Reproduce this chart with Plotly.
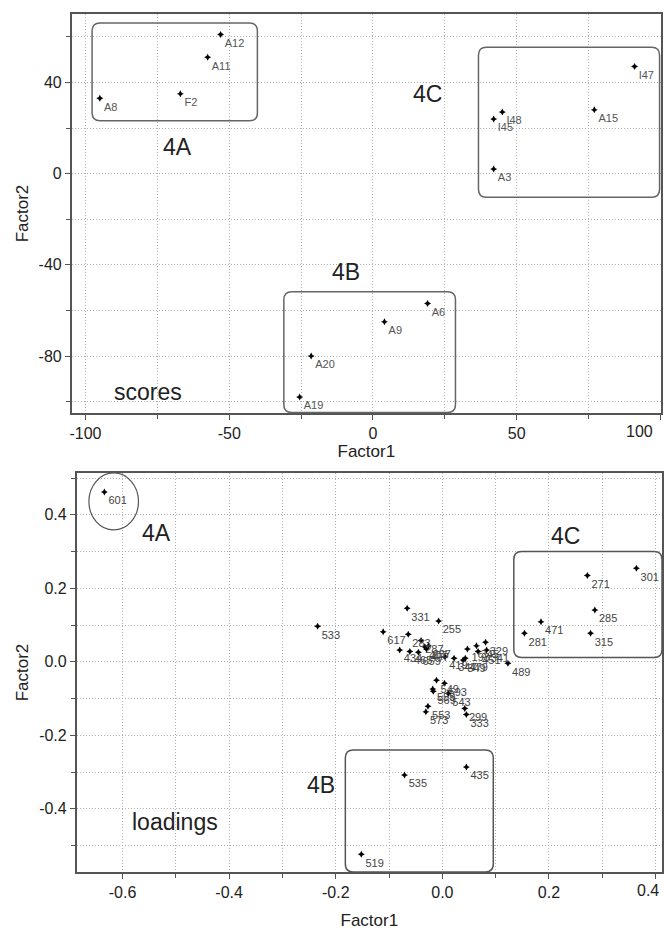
import plotly.graph_objects as go

# ---------------- data: scores ----------------
score_labels = ["A12", "A11", "F2", "A8", "I47", "A15", "I48", "I45", "A3", "A6", "A9", "A20", "A19"]
score_f1 = [-53, -57.5, -67, -95, 91, 77, 45, 42, 42, 19, 4, -21.5, -25.5]
score_f2 = [61, 51, 35, 33, 47, 28, 27, 24, 2, -57, -65, -80, -98]

score_groups = ["4A", "4C", "4B"]
score_box_x0 = [-97.7, 36.7, -31.0]
score_box_x1 = [-40.2, 99.7, 28.7]
score_box_y0 = [23.2, -10.4, -104.8]
score_box_y1 = [66.0, 55.4, -51.8]
score_group_lx = [-68, 19, -9.5]
score_group_ly = [11.5, 35, -43.3]

score_xticks = [-100, -50, 0, 50, 100]
score_xticktext = ["-100", "-50", "0", "50", "100"]
score_yticks = [-80, -40, 0, 40]
score_yticktext = ["-80", "-40", "0", "40"]

# ---------------- data: loadings ----------------
load_labels = ["601", "533", "617", "331", "255", "283", "287", "434", "465", "659", "407", "497", "237",
               "419", "347", "349", "479", "193", "345", "451", "329", "341", "489",
               "549", "593", "543", "559", "569", "553", "573", "299", "333",
               "301", "271", "285", "471", "281", "315",
               "435", "535", "519"]
load_f1 = [-0.634, -0.234, -0.111, -0.066, -0.007, -0.064, -0.040, -0.080, -0.061, -0.045, -0.033, -0.030, -0.026,
           0.005, 0.022, 0.039, 0.043, 0.047, 0.064, 0.067, 0.081, 0.083, 0.123,
           -0.011, 0.004, 0.011, -0.018, -0.017, -0.027, -0.031, 0.042, 0.045,
           0.364, 0.272, 0.286, 0.185, 0.154, 0.278,
           0.045, -0.071, -0.152]
load_f2 = [0.462, 0.097, 0.082, 0.146, 0.111, 0.075, 0.058, 0.032, 0.028, 0.026, 0.041, 0.035, 0.044,
           0.014, 0.010, 0.005, 0.010, 0.035, 0.044, 0.028, 0.053, 0.032, -0.004,
           -0.050, -0.058, -0.086, -0.074, -0.080, -0.121, -0.136, -0.127, -0.143,
           0.255, 0.235, 0.141, 0.109, 0.078, 0.078,
           -0.286, -0.308, -0.524]

load_circle = [-0.663, -0.570, 0.359, 0.514]   # group 4A ellipse (x0, x1, y0, y1)
load_groups = ["4C", "4B"]
load_box_x0 = [0.134, -0.182]
load_box_x1 = [0.412, 0.0955]
load_box_y0 = [0.012, -0.572]
load_box_y1 = [0.300, -0.240]
load_group_names = ["4A", "4C", "4B"]
load_group_lx = [-0.537, 0.231, -0.227]
load_group_ly = [0.350, 0.343, -0.336]

load_xticks = [-0.6, -0.4, -0.2, 0.0, 0.2, 0.4]
load_xticktext = ["-0.6", "-0.4", "-0.2", "0.0", "0.2", "0.4"]
load_yticks = [-0.4, -0.2, 0.0, 0.2, 0.4]
load_yticktext = ["-0.4", "-0.2", "0.0", "0.2", "0.4"]

# ---------------- axes ----------------
top_xrange = [-104.8, 100.2]
top_yrange = [-105, 70]
bot_xrange = [-0.686, 0.412]
bot_yrange = [-0.572, 0.514]

W, H = 664, 930
top_dom_x = [70 / W, 662 / W]
top_dom_y = [(H - 413) / H, (H - 14) / H]
bot_dom_x = [75 / W, 663 / W]
bot_dom_y = [(H - 872) / H, (H - 473) / H]

FONT = "Liberation Sans, Arial, sans-serif"
GRID = "#b0b0b0"
LINE = "#555555"
DOTS = "1px,2px"
TICKFONT = dict(size=16, color="#222222", family=FONT)

fig = go.Figure()

fig.add_trace(go.Scatter(
    x=score_f1, y=score_f2, text=score_labels, mode="markers+text",
    textposition="bottom right", textfont=dict(size=11, color="#555555", family=FONT),
    marker=dict(symbol="star-diamond", size=5, color="black"),
    xaxis="x", yaxis="y", showlegend=False, cliponaxis=False, hoverinfo="skip"))

fig.add_trace(go.Scatter(
    x=load_f1, y=load_f2, text=load_labels, mode="markers+text",
    textposition="bottom right", textfont=dict(size=11, color="#444444", family=FONT),
    marker=dict(symbol="star-diamond", size=5, color="black"),
    xaxis="x2", yaxis="y2", showlegend=False, cliponaxis=False, hoverinfo="skip"))


def rounded_path(x0, x1, y0, y1, rx, ry):
    return (f"M {x0+rx},{y0} L {x1-rx},{y0} Q {x1},{y0} {x1},{y0+ry} "
            f"L {x1},{y1-ry} Q {x1},{y1} {x1-rx},{y1} "
            f"L {x0+rx},{y1} Q {x0},{y1} {x0},{y1-ry} "
            f"L {x0},{y0+ry} Q {x0},{y0} {x0+rx},{y0} Z")


def px_to_data(rng, dom, total, px):
    return px * (rng[1] - rng[0]) / ((dom[1] - dom[0]) * total)


shapes = []
R = 8
rx_t = px_to_data(top_xrange, top_dom_x, W, R)
ry_t = px_to_data(top_yrange, top_dom_y, H, R)
for i in range(len(score_groups)):
    shapes.append(dict(type="path", xref="x", yref="y",
                       path=rounded_path(score_box_x0[i], score_box_x1[i], score_box_y0[i], score_box_y1[i], rx_t, ry_t),
                       line=dict(color="#666666", width=1.5)))
rx_b = px_to_data(bot_xrange, bot_dom_x, W, R)
ry_b = px_to_data(bot_yrange, bot_dom_y, H, R)
for i in range(len(load_groups)):
    shapes.append(dict(type="path", xref="x2", yref="y2",
                       path=rounded_path(load_box_x0[i], load_box_x1[i], load_box_y0[i], load_box_y1[i], rx_b, ry_b),
                       line=dict(color="#555555", width=1.5)))
shapes.append(dict(type="circle", xref="x2", yref="y2",
                   x0=load_circle[0], x1=load_circle[1], y0=load_circle[2], y1=load_circle[3],
                   line=dict(color="#555555", width=1.2)))

annotations = []
for i, g in enumerate(score_groups):
    annotations.append(dict(x=score_group_lx[i], y=score_group_ly[i], xref="x", yref="y", text=g,
                            showarrow=False, font=dict(size=23, color="#222222", family=FONT)))
annotations.append(dict(x=-78.2, y=-95.9, xref="x", yref="y", text="scores",
                        showarrow=False, font=dict(size=23, color="#222222", family=FONT)))
for i, g in enumerate(load_group_names):
    annotations.append(dict(x=load_group_lx[i], y=load_group_ly[i], xref="x2", yref="y2", text=g,
                            showarrow=False, font=dict(size=23, color="#222222", family=FONT)))
annotations.append(dict(x=-0.502, y=-0.436, xref="x2", yref="y2", text="loadings",
                        showarrow=False, font=dict(size=23, color="#222222", family=FONT)))

# last x tick labels sit against the right edge, shifted left to stay inside the figure
annotations.append(dict(x=score_xticks[-1], y=top_dom_y[0], xref="x", yref="paper", yanchor="top",
                        yshift=-8, xanchor="right", xshift=-5,
                        text=score_xticktext[-1], showarrow=False, font=TICKFONT))
annotations.append(dict(x=load_xticks[-1], y=bot_dom_y[0], xref="x2", yref="paper", yanchor="top",
                        yshift=-8, xanchor="right", xshift=5,
                        text=load_xticktext[-1], showarrow=False, font=TICKFONT))
score_xticktext_shown = score_xticktext[:-1] + [""]
load_xticktext_shown = load_xticktext[:-1] + [""]


def axis(rng, dom, tickvals, ticktext, mdtick, anchor, title, standoff):
    return dict(range=rng, domain=dom, anchor=anchor, tickmode="array",
                tickvals=tickvals, ticktext=ticktext,
                showgrid=True, gridcolor=GRID, griddash=DOTS, gridwidth=1,
                zeroline=False, showline=True, linecolor=LINE, linewidth=1.5, mirror=True,
                ticks="outside", ticklen=5, tickcolor=LINE,
                tickfont=TICKFONT,
                title=dict(text=title, font=dict(size=17, color="#222222", family=FONT), standoff=standoff),
                minor=dict(dtick=mdtick, tick0=0, showgrid=True, gridcolor=GRID, griddash=DOTS,
                           ticks="outside", ticklen=4, tickcolor=LINE))


fig.update_layout(
    width=W, height=H,
    margin=dict(l=0, r=0, t=0, b=0),
    paper_bgcolor="white", plot_bgcolor="white",
    font=dict(family=FONT),
    xaxis=axis(top_xrange, top_dom_x, score_xticks, score_xticktext_shown, 25, "y", "Factor1", 0),
    yaxis=axis(top_yrange, top_dom_y, score_yticks, score_yticktext, 20, "x", "Factor2", 6),
    xaxis2=axis(bot_xrange, bot_dom_x, load_xticks, load_xticktext_shown, 0.1, "y2", "Factor1", 14),
    yaxis2=axis(bot_yrange, bot_dom_y, load_yticks, load_yticktext, 0.1, "x2", "Factor2", 6),
    shapes=shapes, annotations=annotations,
)

fig.write_html(
    "out.html",
    config={"displayModeBar": False},
    post_script="document.body.style.margin='0';document.body.style.overflow='hidden';",
)
